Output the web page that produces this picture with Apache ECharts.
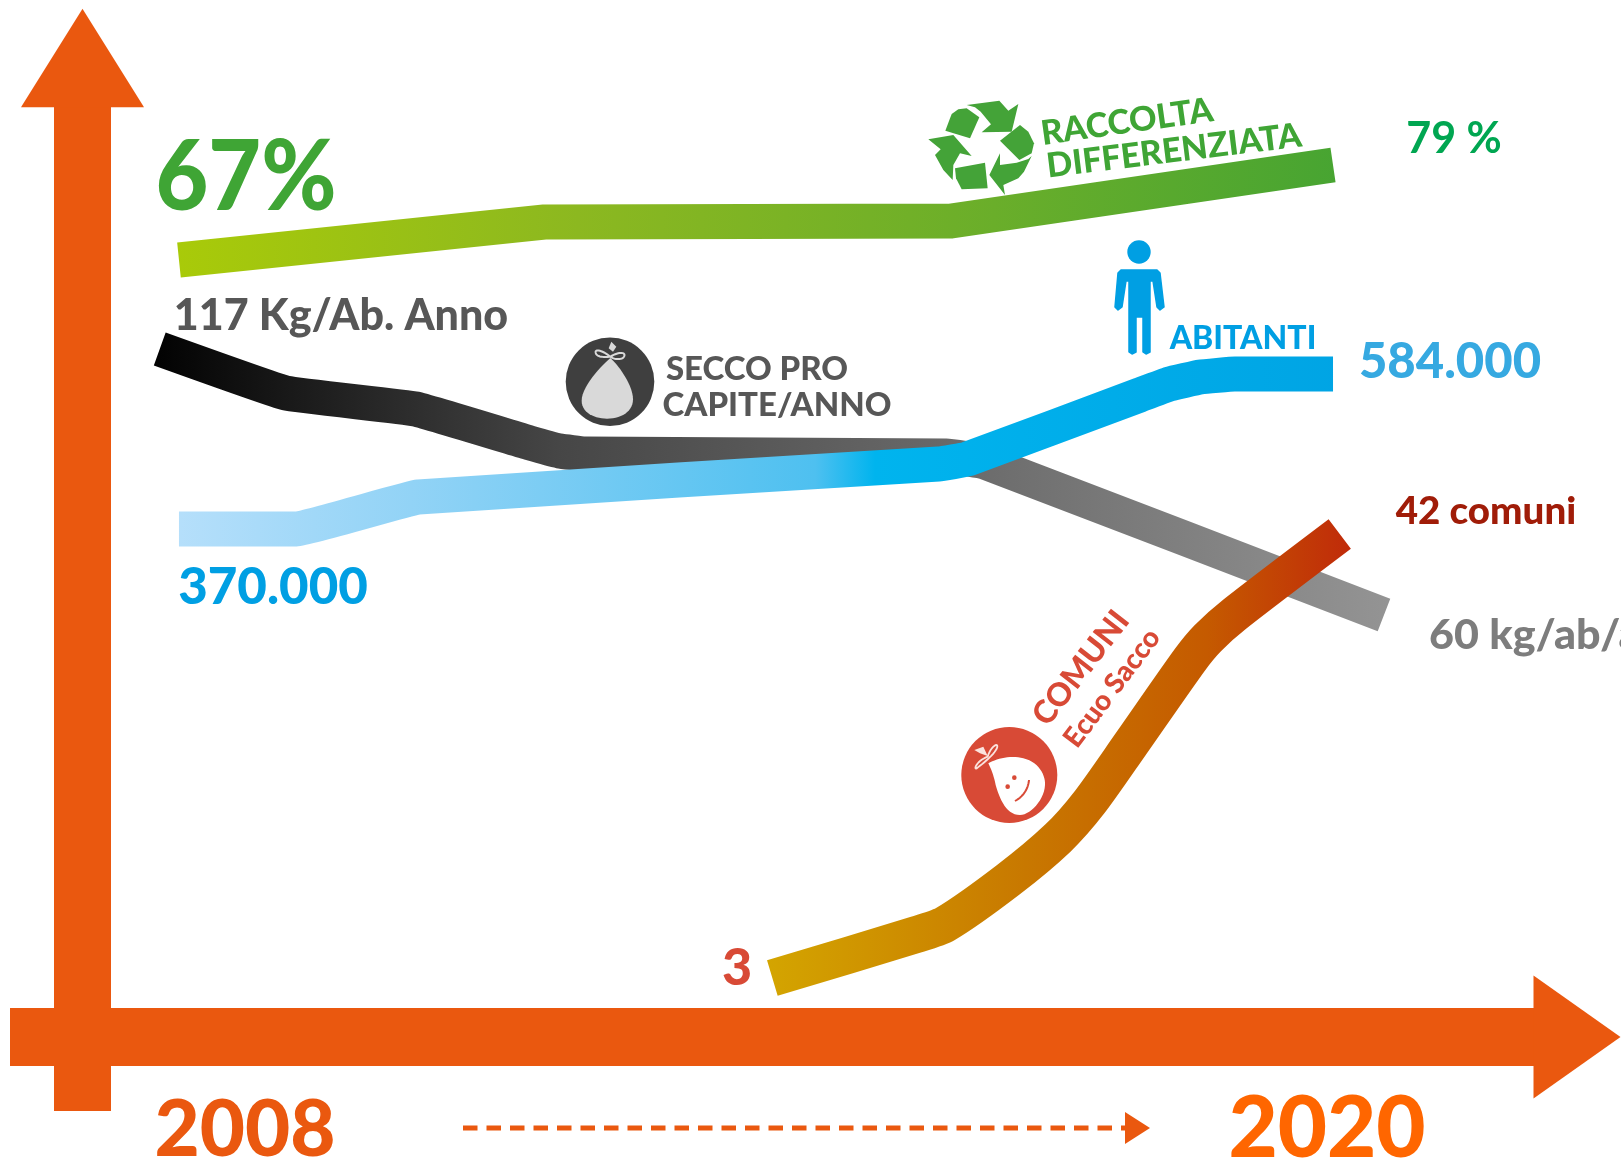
<!DOCTYPE html>
<html><head><meta charset="utf-8">
<style>html,body{margin:0;padding:0;background:#fff}#c{width:1621px;height:1159px}</style>
<script src="https://cdn.jsdelivr.net/npm/echarts@6/dist/echarts.min.js"></script>
</head><body><div id="c"></div>
<script>
// Data: [year, relative level]
const raccolta = [[2008,77.7],[2011.8,81.5],[2016.03,81.6],[2020,87.2]];
const secco = [[2007.8,68.8],[2009.11,64.4],[2010.46,62.8],[2011.65,59.4],[2011.96,58.6],[2012.22,58.3],[2015.98,58.1],[2016.38,57.5],[2020.53,42.2]];
const abitanti = [[2008,50.8],[2009.21,50.8],[2010.49,54.0],[2015.9,57.3],[2016.2,57.8],[2017.99,64.2],[2018.3,65.3],[2018.62,66.0],[2018.98,66.3],[2020,66.3]];
const comuni = [[2014.17,5.9],[2015.65,10.2],[2015.97,11.3],[2016.62,15.7],[2017.14,19.9],[2017.47,23.5],[2017.89,29.2],[2018.51,37.7],[2018.7,39.9],[2018.98,42.3],[2020.07,50.3]];
const yearLabels = ['2008','2020'];

const ORANGE = '#EA580F';
const chart = echarts.init(document.getElementById('c'), null, {renderer:'canvas'});
const grad = stops => new echarts.graphic.LinearGradient(0,0,1,0, stops.map(s=>({offset:s[0],color:s[1]})));
const axisBase = {
  type:'value', axisTick:{show:false}, axisLabel:{show:false}, splitLine:{show:false}
};
const ribbon = (name,data,width,color,smooth) => ({
  name, type:'line', data, showSymbol:false, symbol:'none', smooth:smooth||false, clip:false,
  lineStyle:{width, color, cap:'butt', join:'round'}
});
const FF = 'Lato, "Open Sans", sans-serif';
const T = (text,x,y,size,fill,rotDeg,weight,sx) => ({
  type:'text', x, y, rotation:(rotDeg||0)*Math.PI/180, scaleX:sx||1, silent:true,
  style:{text, fill, font:`${weight||700} ${size}px ${FF}`, align:'center', verticalAlign:'middle'}
});
// icon outlines, given in crop units (3 units per pixel) from an icon origin
const crop = (ox,oy,pts) => pts.map(p=>[ox+p[0]/3, oy+p[1]/3]);
// outline from cubic curves: start point, then [c1x,c1y,c2x,c2y,x,y] per segment
const curve = (start,segs) => {
  const out=[start]; let p=start;
  segs.forEach(s=>{
    for(let i=1;i<=14;i++){const t=i/14,u=1-t;
      out.push([u*u*u*p[0]+3*u*u*t*s[0]+3*u*t*t*s[2]+t*t*t*s[4], u*u*u*p[1]+3*u*u*t*s[1]+3*u*t*t*s[3]+t*t*t*s[5]]);}
    p=[s[4],s[5]];
  });
  return out;
};
const PG = (points,style) => ({type:'polygon',silent:true,shape:{points},style});
const PL = (points,style) => ({type:'polyline',silent:true,shape:{points},style:Object.assign({fill:'none'},style)});
const C = (cx,cy,r,fill) => ({type:'circle',silent:true,shape:{cx,cy,r},style:{fill}});
const G = {fill:'#44A338'};
const recycle = [
  [[76,122],[95,72],[115,58],[140,55],[178,82],[150,145]],
  [[140,45],[238,32],[265,62],[295,42],[275,125],[185,127],[213,103],[182,65],[165,52]],
  [[240,152],[300,105],[325,125],[342,160],[335,190],[298,210]],
  [[335,198],[312,245],[295,265],[250,285],[255,315],[208,255],[240,190],[240,225],[290,218],[325,207]],
  [[105,235],[195,218],[203,295],[125,298],[108,265]],
  [[25,148],[100,135],[155,198],[120,190],[100,225],[98,270],[70,240],[45,195],[62,178]]
].map(s=>PG(crop(920,90,s),G));

chart.setOption({
  animation:false, backgroundColor:'#fff',
  grid:{left:10,right:44,top:58,bottom:48,containLabel:false},
  xAxis:Object.assign({},axisBase,{min:2006.243,max:2022.537,position:'bottom',offset:-74,
    axisLine:{show:true,onZero:false,lineStyle:{color:ORANGE,width:58,cap:'butt'},symbol:['none','triangle'],symbolSize:[123,87]}}),
  yAxis:Object.assign({},axisBase,{min:-7.4,max:97.9,position:'left',offset:-72.5,
    axisLine:{show:true,onZero:false,lineStyle:{color:ORANGE,width:57,cap:'butt'},symbol:['none','triangle'],symbolSize:[123,98.5]}}),
  series:[
    ribbon('Raccolta differenziata',raccolta,35,grad([[0,'#AACB08'],[0.35,'#8CB820'],[0.7,'#6AAE2A'],[1,'#46A432']])),
    ribbon('Secco pro capite/anno',secco,35,grad([[0,'#000000'],[0.33,'#464646'],[0.65,'#6A6A6A'],[1,'#959595']]),0.08),
    ribbon('Abitanti',abitanti,35,grad([[0,'#B8E0FB'],[0.21,'#92D3F6'],[0.55,'#4EC0F0'],[0.6,'#00B4EE'],[1,'#00A4E4']]),0.08),
    ribbon('Comuni Ecuo Sacco',comuni,37,grad([[0,'#D4A700'],[0.45,'#C87800'],[0.75,'#C55A00'],[1,'#C0280A']]),0.25)
  ],
  graphic:{elements:[
    T('67%',246,178,98,'#3FA535',0,900,0.93),
    T('79 %',1454,139,43,'#00A651'),
    T('117 Kg/Ab. Anno',341,316,43,'#575757',0,900),
    T('370.000',273,588,51,'#009FE3',0,900),
    T('584.000',1450,362,49,'#36A9E1',0,900),
    T('ABITANTI',1243,339,32,'#009FE3',0,900),
    T('SECCO PRO',757,369,33,'#575757',0,900),
    T('CAPITE/ANNO',777,405,33,'#575757',0,900),
    T('42 comuni',1486,512,38.5,'#A01C08',0,900),
    {type:'text',x:1429,y:636,scaleX:1.05,silent:true,style:{text:'60 kg/ab/anno',fill:'#7D7D7D',font:`900 41px ${FF}`,align:'left',verticalAlign:'middle'}},
    T('3',737,968,52,'#D84A36',0,900),
    T(yearLabels[0],245,1131,78,ORANGE,0,900),
    T(yearLabels[1],1327,1130,85,'#FF6600',0,900),
    T('RACCOLTA',1127,122,34,'#3FA535',8,900),
    T('DIFFERENZIATA',1174,151,34,'#3FA535',7,900),
    T('COMUNI',1081,668,32,'#D84A36',52,900),
    T('Ecuo Sacco',1112,688,28,'#D84A36',53,900),
    // dashed arrow between years
    {type:'line',silent:true,shape:{x1:463,y1:1128,x2:1125,y2:1128},style:{stroke:ORANGE,lineWidth:5,lineDash:[14.5,9]}},
    PG([[1125,1112],[1150,1128],[1125,1144]],{fill:ORANGE}),
    // recycle icon
    ...recycle,
    // person
    C(1139,252,11.7,'#009FE3'),
    PG([[1121,270],[1157,270],[1160,273],[1164,307],[1160,310],[1157,307],[1153,281],[1150,281],[1150,352],[1146,354],[1143,352],[1143,317],[1136,317],[1136,352],[1132,354],[1129,352],[1129,281],[1126,281],[1122,307],[1118,310],[1115,307],[1118,273]],{fill:'#009FE3',stroke:'#009FE3',lineWidth:1.5,lineJoin:'round'}),
    // dark sack icon
    C(610,381.7,44.3,'#3F3F3F'),
    PG(crop(555,330,curve([166,84],[[138,108,80,170,80,212],[80,248,118,266,156,266],[198,266,234,245,234,208],[234,165,190,105,166,84]])),{fill:'#D9D9D9'}),
    PL(crop(555,330,curve([166,80],[[144,62,119,55,122,68],[124,82,149,82,166,80],[189,66,212,65,208,78],[204,90,179,90,166,80]])),{stroke:'#D9D9D9',lineWidth:2}),
    PG(crop(555,330,[[169,35],[184,50],[174,65],[161,55]]),{fill:'#D9D9D9'}),
    // smiling sack icon
    C(1009.3,775,48,'#D84A36'),
    PG(crop(955,720,curve([100,130],[[125,115,170,105,205,115],[250,125,272,165,270,195],[268,240,225,285,195,285],[155,285,135,240,122,195],[117,170,110,150,100,130]])),{fill:'#FFFFFF'}),
    C(955+178/3,720+173/3,2.3,'#D84A36'),
    C(955+158/3,720+200/3,2.3,'#D84A36'),
    PL(crop(955,720,curve([222,180],[[220,205,205,230,180,243]])),{stroke:'#D84A36',lineWidth:2}),
    PG(crop(955,720,[[58,90],[85,80],[98,108],[75,100]]),{fill:'#FBE3DD'}),
    PL(crop(955,720,curve([98,110],[[105,85,125,68,127,78],[128,95,85,130,65,145],[55,150,65,122,98,110]])),{stroke:'#FBE3DD',lineWidth:1.8})
  ]}
});
</script></body></html>
